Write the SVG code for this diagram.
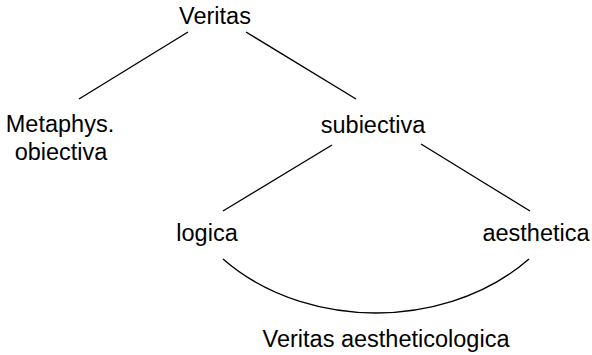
<svg xmlns="http://www.w3.org/2000/svg" width="592" height="355" viewBox="0 0 592 355">
<style>
text{font-family:"Liberation Sans",Arial,sans-serif;font-size:23.5px;fill:#000;text-anchor:middle}
.c{stroke:#000;stroke-width:1.4;fill:none}
</style>
<rect width="592" height="355" fill="#fff"/>
<g id="connectors">
<line class="c" x1="188" y1="32" x2="79" y2="99"/>
<line class="c" x1="246" y1="32" x2="356" y2="99"/>
<line class="c" x1="332" y1="145" x2="223" y2="211"/>
<line class="c" x1="421" y1="144" x2="530" y2="211"/>
<path class="c" d="M223 259 C270 300 330 313 376 313 C422 313 482 300 529 259"/>
</g>
<g id="veritas"><text x="215" y="24">Veritas</text></g>
<g id="metaphys"><text x="60" y="132">Metaphys.</text><text x="61" y="160">obiectiva</text></g>
<g id="subiectiva"><text x="373" y="133">subiectiva</text></g>
<g id="logica"><text x="207" y="241">logica</text></g>
<g id="aesthetica"><text x="536" y="241">aesthetica</text></g>
<g id="veritas-aestheticologica"><text x="386" y="347">Veritas aestheticologica</text></g>
</svg>
